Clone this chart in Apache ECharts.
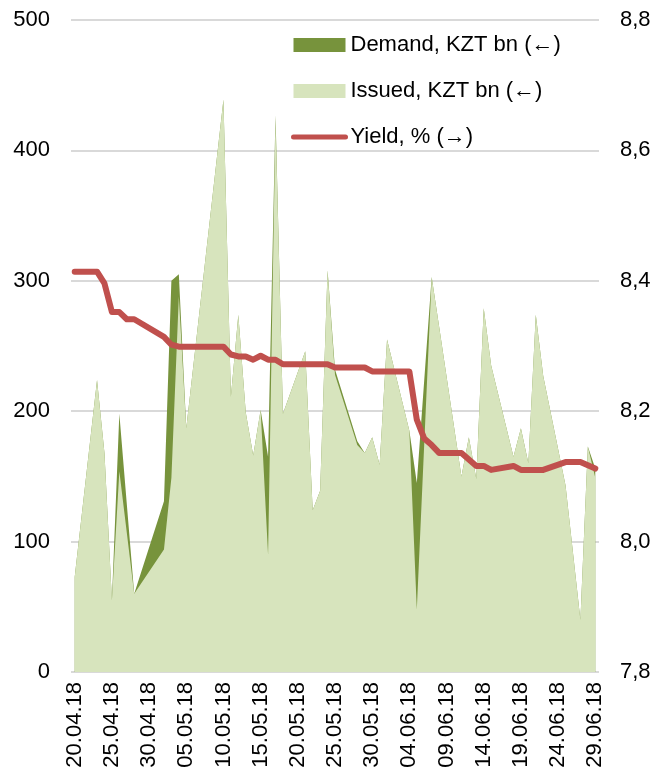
<!DOCTYPE html>
<html>
<head>
<meta charset="utf-8">
<script src="https://cdn.jsdelivr.net/npm/echarts@6/dist/echarts.min.js"></script>
<style>
  html, body { margin: 0; padding: 0; background: #fff; }
  #chart { width: 656px; height: 776px; }
</style>
</head>
<body>
<div id="chart"></div>
<script>
// auction dates
const dates = [
  '20.04.18', '23.04.18', '24.04.18', '25.04.18', '26.04.18', '27.04.18', '28.04.18',
  '02.05.18', '03.05.18', '04.05.18', '05.05.18', '10.05.18', '11.05.18', '12.05.18',
  '13.05.18', '14.05.18', '15.05.18', '16.05.18', '17.05.18', '18.05.18', '21.05.18',
  '22.05.18', '23.05.18', '24.05.18', '25.05.18', '28.05.18', '29.05.18', '30.05.18',
  '31.05.18', '01.06.18', '04.06.18', '05.06.18', '06.06.18', '07.06.18', '08.06.18',
  '11.06.18', '12.06.18', '13.06.18', '14.06.18', '15.06.18', '18.06.18', '19.06.18',
  '20.06.18', '21.06.18', '22.06.18', '25.06.18', '27.06.18', '28.06.18', '29.06.18'
]
// KZT bn
const demand = [
  73, 224, 168, 55, 198, 129, 60,
  131, 300, 305, 187, 439, 211, 274,
  199, 166, 201, 165, 427, 198, 246,
  124, 139, 308, 232, 177, 168, 180,
  159, 255, 185, 145, 224, 303, 265,
  150, 180, 148, 279, 235, 165, 187,
  160, 274, 227, 143, 40, 173, 156
]
const issued = [
  73, 224, 168, 55, 154, 107, 60,
  94, 149, 288, 187, 439, 211, 274,
  199, 166, 201, 90, 424, 198, 246,
  124, 139, 308, 228, 174, 168, 180,
  159, 255, 185, 48, 175, 303, 265,
  150, 180, 148, 279, 235, 165, 187,
  160, 274, 227, 143, 40, 173, 149
]
// %
const yieldPct = [
  8.414, 8.414, 8.396, 8.352, 8.352, 8.341, 8.341,
  8.314, 8.302, 8.299, 8.299, 8.299, 8.287, 8.284,
  8.284, 8.279, 8.285, 8.279, 8.279, 8.272, 8.272,
  8.272, 8.272, 8.272, 8.267, 8.267, 8.267, 8.261,
  8.261, 8.261, 8.261, 8.187, 8.158, 8.148, 8.136,
  8.136, 8.126, 8.116, 8.116, 8.110, 8.116, 8.110,
  8.110, 8.110, 8.110, 8.122, 8.122, 8.117, 8.112
]
const tickDays = [0, 5, 10, 15, 20, 25, 30, 35, 40, 45, 50, 55, 60, 65, 70]

const FONT = "'Liberation Sans Narrow', 'Arial Narrow', 'Liberation Sans', Arial, sans-serif"
const DAY = 86400000

function parseDate(s) {
  const [d, m, y] = s.split('.').map(Number)
  return Date.UTC(2000 + y, m - 1, d)
}
const t0 = parseDate(dates[0])
const dayIdx = dates.map(s => Math.round((parseDate(s) - t0) / DAY))
function fmtDay(v) {
  const dt = new Date(t0 + v * DAY)
  const p = n => String(n).padStart(2, '0')
  return p(dt.getUTCDate()) + '.' + p(dt.getUTCMonth() + 1) + '.' + String(dt.getUTCFullYear()).slice(2)
}
const pairs = arr => arr.map((v, i) => [dayIdx[i], v])

const chart = echarts.init(document.getElementById('chart'))
chart.setOption({
  animation: false,
  textStyle: { fontFamily: FONT },
  grid: { left: 71, right: 57, top: 20, bottom: 104 },
  legend: {
    orient: 'vertical',
    left: 291,
    top: 33,
    padding: 0,
    itemWidth: 52,
    itemHeight: 14,
    itemGap: 22,
    textStyle: { fontFamily: FONT, fontSize: 22, color: '#000', lineHeight: 24 },
    data: [
      { name: 'Demand, KZT bn (\u2190)', icon: 'rect' },
      { name: 'Issued, KZT bn (\u2190)', icon: 'rect' },
      {
        name: 'Yield, % (\u2192)',
        itemStyle: { color: 'rgba(0,0,0,0)', borderWidth: 0 },
        lineStyle: { color: '#c0504d', width: 5, cap: 'round' }
      }
    ]
  },
  xAxis: {
    type: 'value',
    min: -0.5,
    max: 70.5,
    axisLine: { show: false },
    axisTick: { show: false },
    splitLine: { show: false },
    axisLabel: {
      customValues: tickDays,
      rotate: 90,
      margin: 10,
      fontFamily: FONT,
      fontSize: 22,
      color: '#000',
      formatter: v => fmtDay(v)
    }
  },
  yAxis: [
    {
      type: 'value',
      min: 0,
      max: 500,
      interval: 100,
      axisLine: { show: false },
      axisTick: { show: false },
      splitLine: { lineStyle: { color: '#d9d9d9', width: 2 } },
      axisLabel: { margin: 21, fontFamily: FONT, fontSize: 22, color: '#000' }
    },
    {
      type: 'value',
      min: 7.8,
      max: 8.8,
      interval: 0.2,
      axisLine: { show: false },
      axisTick: { show: false },
      splitLine: { show: false },
      axisLabel: {
        margin: 21,
        fontFamily: FONT,
        fontSize: 22,
        color: '#000',
        formatter: v => v.toFixed(1).replace('.', ',')
      }
    }
  ],
  series: [
    {
      name: 'Demand, KZT bn (\u2190)',
      type: 'line',
      data: pairs(demand),
      symbol: 'none',
      lineStyle: { width: 0 },
      itemStyle: { color: '#77933c' },
      areaStyle: { color: '#77933c', opacity: 1 },
      z: 1
    },
    {
      name: 'Issued, KZT bn (\u2190)',
      type: 'line',
      data: pairs(issued),
      symbol: 'none',
      lineStyle: { width: 0 },
      itemStyle: { color: '#d7e4bd' },
      areaStyle: { color: '#d7e4bd', opacity: 1 },
      z: 2
    },
    {
      name: 'Yield, % (\u2192)',
      type: 'line',
      yAxisIndex: 1,
      data: pairs(yieldPct),
      symbol: 'none',
      itemStyle: { color: '#c0504d' },
      lineStyle: { color: '#c0504d', width: 6, cap: 'round', join: 'round' },
      z: 3
    }
  ]
})
</script>
</body>
</html>
